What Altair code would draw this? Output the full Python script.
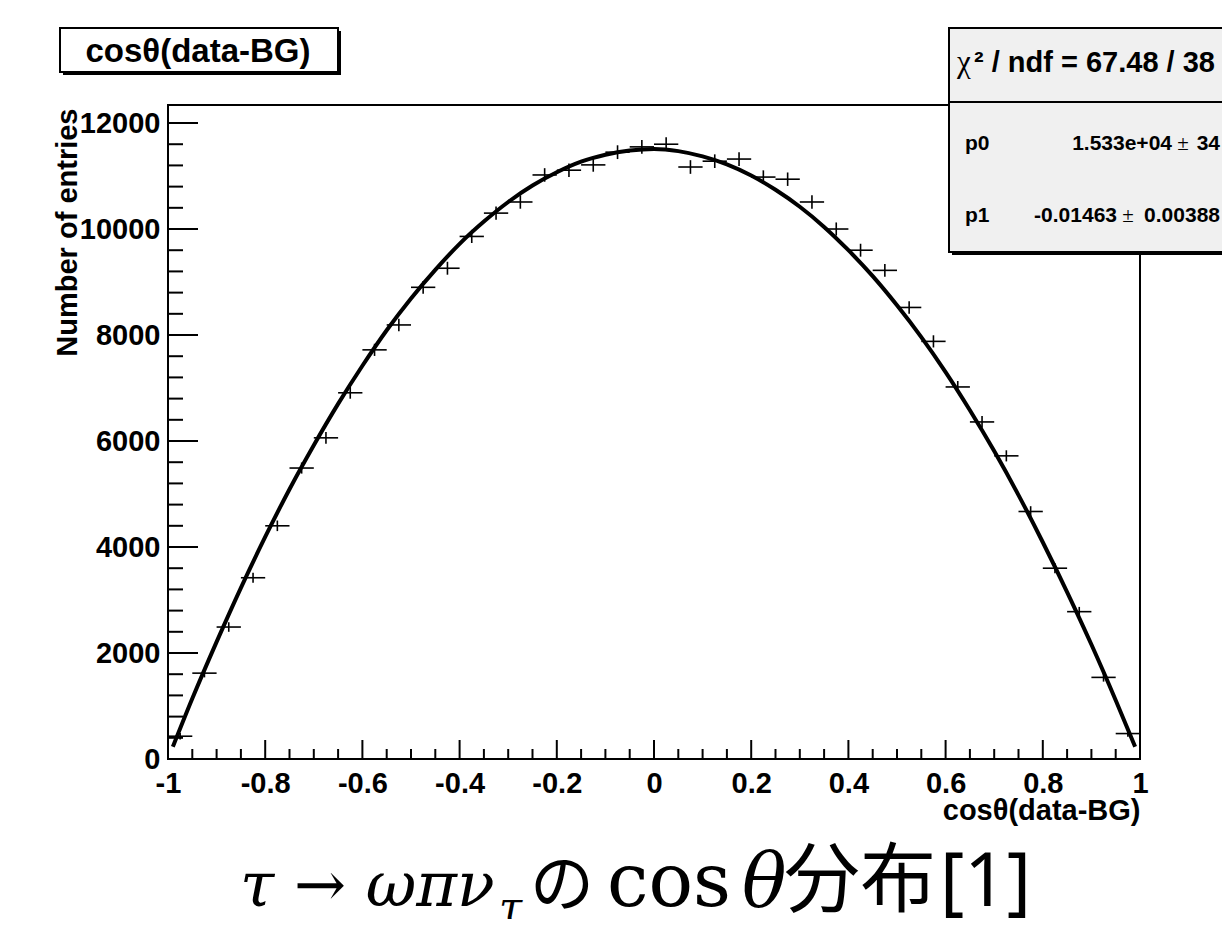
import altair as alt
import pandas as pd

# ---------------- data ----------------
bin_centers = [-0.975, -0.925, -0.875, -0.825, -0.775, -0.725, -0.675, -0.625, -0.575, -0.525,
               -0.475, -0.425, -0.375, -0.325, -0.275, -0.225, -0.175, -0.125, -0.075, -0.025,
               0.025, 0.075, 0.125, 0.175, 0.225, 0.275, 0.325, 0.375, 0.425, 0.475,
               0.525, 0.575, 0.625, 0.675, 0.725, 0.775, 0.825, 0.875, 0.925, 0.975]
counts = [430, 1620, 2490, 3420, 4400, 5490, 6060, 6910, 7720, 8190,
          8900, 9260, 9860, 10300, 10510, 11020, 11110, 11210, 11450, 11550,
          11600, 11170, 11280, 11320, 10980, 10940, 10510, 10000, 9600, 9220,
          8520, 7880, 7020, 6360, 5720, 4670, 3600, 2780, 1540, 480]
errors = [60, 80, 90, 95, 100, 105, 110, 112, 115, 118,
          120, 122, 124, 126, 127, 128, 128, 129, 130, 130,
          130, 129, 129, 129, 127, 127, 126, 124, 122, 120,
          118, 115, 112, 110, 105, 100, 95, 90, 80, 60]
half_bin = 0.025

fit_x = [-0.99, -0.95, -0.9, -0.85, -0.8, -0.75, -0.7, -0.65, -0.6, -0.55, -0.5,
         -0.45, -0.4, -0.35, -0.3, -0.25, -0.2, -0.15, -0.1, -0.05, 0.0,
         0.05, 0.1, 0.15, 0.2, 0.25, 0.3, 0.35, 0.4, 0.45, 0.5,
         0.55, 0.6, 0.65, 0.7, 0.75, 0.8, 0.85, 0.9, 0.95, 0.99]
fit_y = [230, 1140, 2210, 3230, 4190, 5090, 5920, 6700, 7420, 8090, 8690,
         9230, 9720, 10140, 10510, 10820, 11070, 11270, 11400, 11480, 11510,
         11470, 11370, 11220, 11010, 10740, 10420, 10040, 9600, 9110, 8560,
         7960, 7300, 6580, 5810, 4980, 4090, 3150, 2160, 1110, 230]

x_major = [-1, -0.8, -0.6, -0.4, -0.2, 0, 0.2, 0.4, 0.6, 0.8, 1]
x_minor = [-0.95, -0.9, -0.85, -0.75, -0.7, -0.65, -0.55, -0.5, -0.45, -0.35, -0.3, -0.25,
           -0.15, -0.1, -0.05, 0.05, 0.1, 0.15, 0.25, 0.3, 0.35, 0.45, 0.5, 0.55,
           0.65, 0.7, 0.75, 0.85, 0.9, 0.95]
y_major = [0, 2000, 4000, 6000, 8000, 10000, 12000]
y_minor = [400, 800, 1200, 1600, 2400, 2800, 3200, 3600, 4400, 4800, 5200, 5600,
           6400, 6800, 7200, 7600, 8400, 8800, 9200, 9600, 10400, 10800, 11200, 11600]

hist_title = "cosθ(data-BG)"
x_title = "cosθ(data-BG)"
y_title = "Number of entries"
stat_head = "² / ndf = 67.48 / 38"
stat_names = ["p0", "p1"]
stat_vals = ["1.533e+04", "-0.01463"]
stat_errs = ["34", "0.00388"]

# ---------------- layout ----------------
W, H = 972, 654
SANS = "Liberation Sans"
xs = alt.Scale(domain=[-1, 1], nice=False, zero=False)
ys = alt.Scale(domain=[0, 12340], nice=False, zero=False)

pts = pd.DataFrame({"x": bin_centers, "y": counts, "e": errors})
pts["xl"] = pts["x"] - half_bin
pts["xh"] = pts["x"] + half_bin
pts["yl"] = pts["y"] - pts["e"]
pts["yh"] = pts["y"] + pts["e"]

xaxis = alt.Axis(values=x_major, labelExpr="'' + datum.value", ticks=False, domain=False, grid=False,
                 labelFont=SANS, labelFontWeight="bold", labelFontSize=29, labelColor="black",
                 labelPadding=10, labelFlush=False, labelOverlap=False,
                 title=x_title, titleFont=SANS, titleFontWeight="bold", titleFontSize=29,
                 titleColor="black", titleX=W, titleY=60, titleAlign="right", titleBaseline="alphabetic")
yaxis = alt.Axis(values=y_major, labelExpr="'' + datum.value", ticks=False, domain=False, grid=False,
                 labelFont=SANS, labelFontWeight="bold", labelFontSize=29, labelColor="black",
                 labelPadding=8, labelOverlap=False,
                 title=y_title, titleFont=SANS, titleFontWeight="bold", titleFontSize=29,
                 titleColor="black", titleX=-101, titleY=3, titleAlign="right", titleBaseline="middle",
                 titleAngle=-90)


def X(f):
    return alt.X(f, scale=xs, axis=xaxis)


def Y(f):
    return alt.Y(f, scale=ys, axis=yaxis)


base = alt.Chart(pts)
hbar = base.mark_rule(color="black", strokeWidth=1.6).encode(x=X("xl:Q"), x2="xh:Q", y=Y("y:Q"))
vbar = base.mark_rule(color="black", strokeWidth=1.6).encode(x=X("x:Q"), y=Y("yl:Q"), y2="yh:Q")

fit = alt.Chart(pd.DataFrame({"fx": fit_x, "fy": fit_y})).mark_line(
    color="black", strokeWidth=4, interpolate="monotone").encode(x=X("fx:Q"), y=Y("fy:Q"))


def xticks(vals, length):
    return alt.Chart(pd.DataFrame({"v": vals})).mark_rule(color="black", strokeWidth=2).encode(
        x=X("v:Q"), y=alt.value(H), y2=alt.value(H - length))


def yticks(vals, length):
    return alt.Chart(pd.DataFrame({"v": vals})).mark_rule(color="black", strokeWidth=2).encode(
        y=Y("v:Q"), x=alt.value(0), x2=alt.value(length))


one = pd.DataFrame({"a": [0]})


def box(x1, y1, x2, y2, fill, stroke="black", sw=2):
    return alt.Chart(one).mark_rect(fill=fill, stroke=stroke, strokeWidth=sw).encode(
        x=alt.value(x1), x2=alt.value(x2), y=alt.value(y1), y2=alt.value(y2))


def txt(s, x, y, size, font=SANS, weight="bold", align="left", style="normal", baseline="alphabetic"):
    return alt.Chart(one).mark_text(text=s, font=font, fontWeight=weight, fontSize=size,
                                    fontStyle=style, align=align, baseline=baseline,
                                    color="black").encode(x=alt.value(x), y=alt.value(y))


# histogram title box (top-left)
title_layers = [
    box(-105, -74, 173, -30, "black", stroke="black", sw=0),
    box(-108, -77, 170, -33, "white"),
    txt(hist_title, 30, -43, 33, align="center"),
]

# statistics box (top-right)
stat_layers = [
    box(784, -74, 1075, 150, "black", stroke="black", sw=0),
    box(781, -77, 1072, 147, "#f0f0f0"),
    alt.Chart(one).mark_rule(color="black", strokeWidth=2).encode(
        x=alt.value(781), x2=alt.value(1072), y=alt.value(-3)),
    txt("χ", 789, -33, 31, font="Liberation Serif", weight="normal"),
    txt(stat_head, 806, -33, 29),
    txt(stat_names[0], 797, 45, 21),
    txt(stat_vals[0], 1004, 45, 21, align="right"),
    txt("±", 1015, 45, 21, font="Liberation Serif", weight="normal", align="center"),
    txt(stat_errs[0], 1052, 45, 21, align="right"),
    txt(stat_names[1], 797, 117, 21),
    txt(stat_vals[1], 949, 117, 21, align="right"),
    txt("±", 960, 117, 21, font="Liberation Serif", weight="normal", align="center"),
    txt(stat_errs[1], 1052, 117, 21, align="right"),
]

# caption below the chart
SERIF = "DejaVu Serif"
CJK = "Noto Sans CJK JP"
cap_base = 801
caption_layers = [
    txt("τ → ωπν", 72, cap_base, 62, font=SERIF, weight="normal", style="italic"),
    txt("τ", 331, cap_base + 16, 42, font=SERIF, weight="normal", style="italic"),
    txt("の", 362, cap_base, 64, font=CJK, weight="normal"),
    txt("cos", 439, cap_base, 74, font=SERIF, weight="normal"),
    txt("θ", 574, cap_base, 74, font=SERIF, weight="normal", style="italic"),
    txt("分布", 616, cap_base, 76, font=CJK, weight="normal"),
    txt("[1]", 772, cap_base, 74, font="Noto Sans", weight="normal"),
]

chart = alt.layer(
    hbar, vbar, fit,
    xticks(x_major, 19), xticks(x_minor, 10),
    yticks(y_major, 30), yticks(y_minor, 15),
    *title_layers, *stat_layers, *caption_layers,
).properties(
    width=W, height=H,
    padding={"left": 160, "top": 97, "right": 82, "bottom": 160},
    autosize=alt.AutoSizeParams(type="none"),
).configure(font=SANS).configure_view(stroke="black", strokeWidth=2)

chart.save("out.html", embed_options={"renderer": "svg", "actions": False})
